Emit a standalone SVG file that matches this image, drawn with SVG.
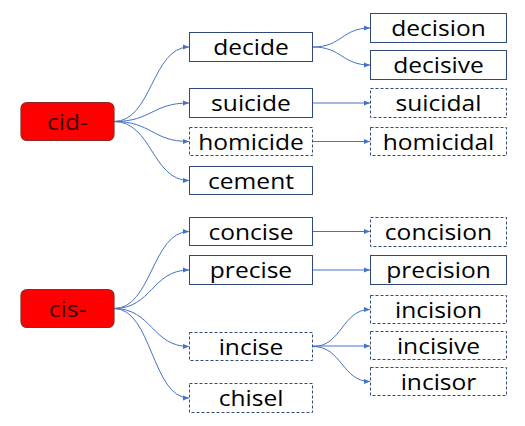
<svg xmlns="http://www.w3.org/2000/svg" width="525" height="426" viewBox="0 0 525 426">
<defs>
<marker id="arr" markerUnits="userSpaceOnUse" markerWidth="7" markerHeight="6" refX="6" refY="3" orient="auto">
<path d="M0,0.5 L6,3 L0,5.5 Z" fill="#4472C4"/>
</marker>
</defs>
<style>
.box{fill:#FFFFFF;stroke:#2F4A7A;stroke-width:1}
.dash{stroke-dasharray:3 2}
.root{fill:#FF0000;stroke:#8B2A2A;stroke-width:1.2}
text{font-family:"Open Sans","Liberation Sans",Arial,sans-serif;font-size:21px;fill:#000000;text-anchor:middle}
.root-t{fill:#3A0000}
.c{fill:none;stroke:#4472C4;stroke-width:1;marker-end:url(#arr)}
</style>
<rect width="525" height="426" fill="#FFFFFF"/>
<g id="connectors">
<path class="c" d="M114,121.5 C152,121.5 152,47 189,47"/>
<path class="c" d="M114,121.5 C152,121.5 152,103 189,103"/>
<path class="c" d="M114,121.5 C152,121.5 152,141.5 189,141.5"/>
<path class="c" d="M114,121.5 C152,121.5 152,180.5 189,180.5"/>
<path class="c" d="M313,47 C342,47 342,28 370,28"/>
<path class="c" d="M313,47 C342,47 342,65 370,65"/>
<path class="c" d="M313,103 L370,103"/>
<path class="c" d="M313,141.5 L370,141.5"/>
<path class="c" d="M114,308.5 C152,308.5 152,231.5 189,231.5"/>
<path class="c" d="M114,308.5 C152,308.5 152,270 189,270"/>
<path class="c" d="M114,308.5 C152,308.5 152,346.5 189,346.5"/>
<path class="c" d="M114,308.5 C152,308.5 152,398 189,398"/>
<path class="c" d="M313,231.5 L370,231.5"/>
<path class="c" d="M313,270 L370,270"/>
<path class="c" d="M313,346.5 C342,346.5 342,309.5 370,309.5"/>
<path class="c" d="M313,346 L370,346"/>
<path class="c" d="M313,346.5 C342,346.5 342,381.5 370,381.5"/>
</g>
<g id="cid"><rect class="root" x="21" y="102.5" width="93" height="38" rx="6"/><text class="root-t" transform="translate(67.5,129.5) scale(1.17,1)">cid-</text></g>
<g id="decide"><rect class="box" x="189.5" y="32.5" width="123" height="29"/><text transform="translate(251,55) scale(1.17,1)">decide</text></g>
<g id="suicide"><rect class="box" x="189.5" y="88.5" width="123" height="29"/><text transform="translate(251,111) scale(1.17,1)">suicide</text></g>
<g id="homicide"><rect class="box dash" x="189.5" y="127.5" width="123" height="28"/><text transform="translate(251,149.5) scale(1.17,1)">homicide</text></g>
<g id="cement"><rect class="box" x="189.5" y="166.5" width="123" height="28"/><text transform="translate(251,188.5) scale(1.17,1)">cement</text></g>
<g id="decision"><rect class="box" x="370.5" y="13.5" width="136" height="29"/><text transform="translate(438.5,36) scale(1.17,1)">decision</text></g>
<g id="decisive"><rect class="box" x="370.5" y="50.5" width="136" height="29"/><text transform="translate(438.5,73) scale(1.17,1)">decisive</text></g>
<g id="suicidal"><rect class="box dash" x="370.5" y="88.5" width="136" height="29"/><text transform="translate(438.5,111) scale(1.17,1)">suicidal</text></g>
<g id="homicidal"><rect class="box dash" x="370.5" y="127.5" width="136" height="28"/><text transform="translate(438.5,149.5) scale(1.17,1)">homicidal</text></g>
<g id="cis"><rect class="root" x="21" y="289.5" width="93" height="38" rx="6"/><text class="root-t" transform="translate(67.5,316.5) scale(1.17,1)">cis-</text></g>
<g id="concise"><rect class="box" x="189.5" y="217.5" width="123" height="28"/><text transform="translate(251,239.5) scale(1.17,1)">concise</text></g>
<g id="precise"><rect class="box" x="189.5" y="255.5" width="123" height="29"/><text transform="translate(251,278) scale(1.17,1)">precise</text></g>
<g id="incise"><rect class="box dash" x="189.5" y="332.5" width="123" height="28"/><text transform="translate(251,354.5) scale(1.17,1)">incise</text></g>
<g id="chisel"><rect class="box dash" x="189.5" y="383.5" width="123" height="29"/><text transform="translate(251,406) scale(1.17,1)">chisel</text></g>
<g id="concision"><rect class="box dash" x="370.5" y="217.5" width="136" height="29"/><text transform="translate(438.5,240) scale(1.17,1)">concision</text></g>
<g id="precision"><rect class="box" x="370.5" y="255.5" width="136" height="29"/><text transform="translate(438.5,278) scale(1.17,1)">precision</text></g>
<g id="incision"><rect class="box dash" x="370.5" y="295.5" width="136" height="28"/><text transform="translate(438.5,317.5) scale(1.17,1)">incision</text></g>
<g id="incisive"><rect class="box dash" x="370.5" y="331.5" width="136" height="28"/><text transform="translate(438.5,353.5) scale(1.17,1)">incisive</text></g>
<g id="incisor"><rect class="box dash" x="370.5" y="367.5" width="136" height="28"/><text transform="translate(438.5,389.5) scale(1.17,1)">incisor</text></g>
</svg>
